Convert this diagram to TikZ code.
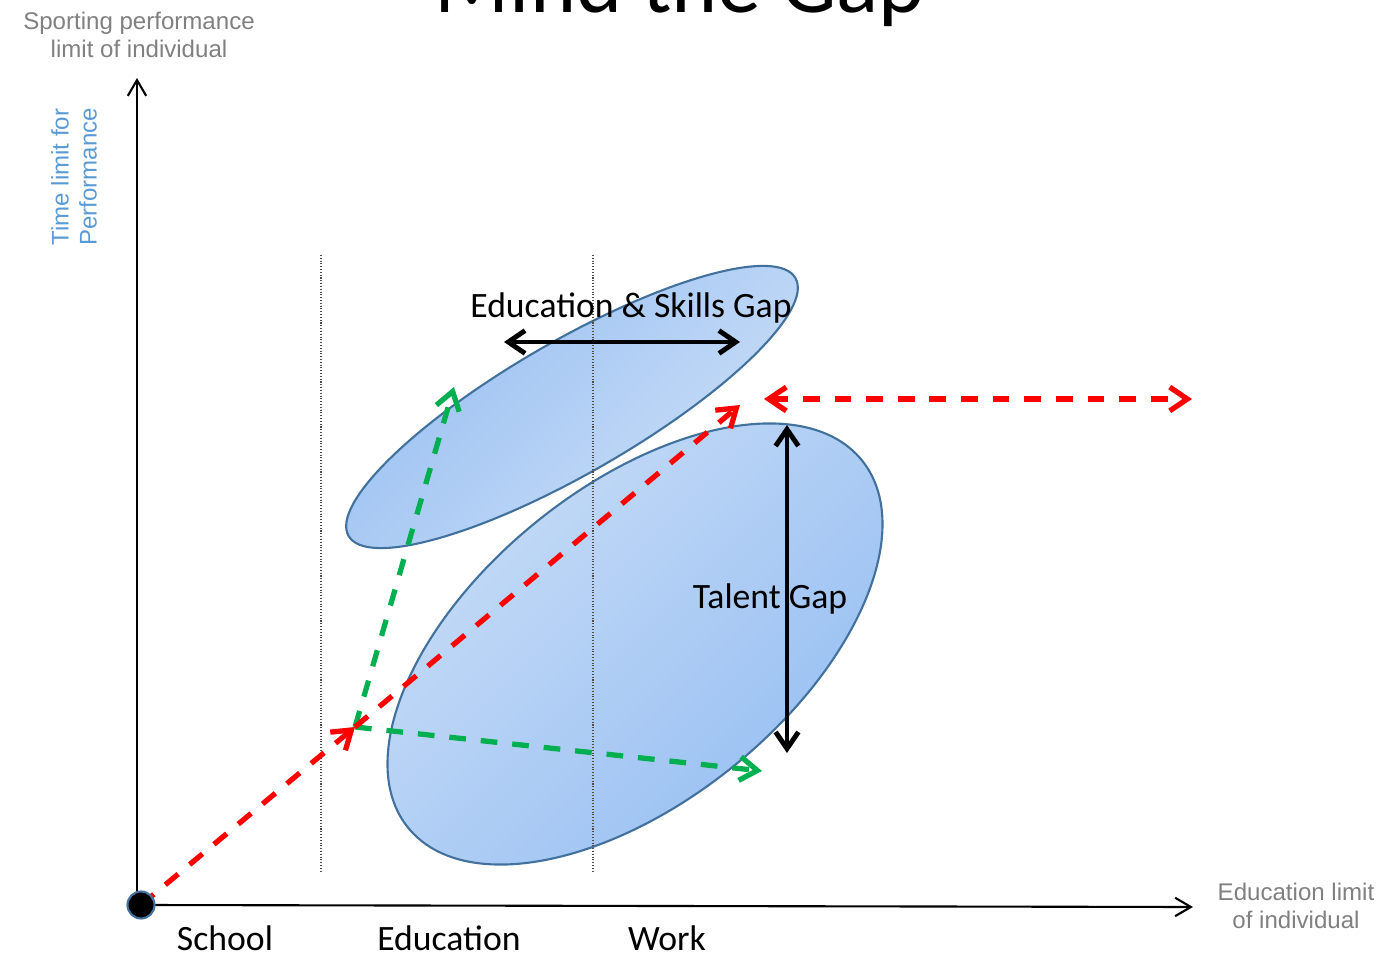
\documentclass[tikz,border=0pt]{standalone}
\usepackage{fontspec}
\setmainfont{Carlito}
\newfontfamily\arialfont{Liberation Sans}
\usetikzlibrary{shapes.geometric,arrows.meta}
\definecolor{ovalline}{RGB}{65,113,156}
\definecolor{ovaldark}{RGB}{150,190,242}
\definecolor{ovallight}{RGB}{202,222,247}
\definecolor{greytext}{RGB}{128,128,128}
\definecolor{bluetext}{RGB}{91,155,213}
\definecolor{gapred}{RGB}{255,0,0}
\definecolor{gapgreen}{RGB}{0,176,80}
\tikzstyle{axis} = [line width=1.2pt,-{Straight Barb[length=9pt,width=10.5pt]}]
\tikzstyle{route} = [line width=3pt,dash pattern=on 9.5pt off 8.5pt,-{Straight Barb[length=10pt,width=13.5pt]}]
\tikzstyle{gaparrow} = [line width=2.8pt,{Straight Barb[length=9.5pt,width=13pt]}-{Straight Barb[length=9.5pt,width=13pt]}]
\tikzstyle{oval} = [ellipse,draw=ovalline,line width=1.2pt,inner sep=0pt]
\tikzstyle{gaptext} = [font=\fontsize{20.3}{24}\selectfont,anchor=base,inner sep=0pt]
\tikzstyle{note} = [font=\arialfont\fontsize{13.7}{16}\selectfont,align=center,text=greytext,inner sep=0pt]
\tikzstyle{divider} = [densely dotted,line width=0.6pt,black!70]

\begin{document}
\begin{tikzpicture}[x=0.02cm,y=-0.02cm]
    \useasboundingbox (0,0) rectangle (1384,966);
    % the two gaps
    \node[oval,minimum width=10.32cm,minimum height=2.64cm,rotate=30,
          top color=ovaldark,bottom color=ovallight,shading angle=45] (skills) at (572,407) {};
    \node[oval,minimum width=11.68cm,minimum height=6.28cm,rotate=39,
          top color=ovallight,bottom color=ovaldark,shading angle=45] (talent) at (635,644) {};
    \draw[divider] (321,255) -- (321,872);
    \draw[divider] (593,255) -- (593,872);
    % axes
    \coordinate (O) at (141,905);
    \coordinate (ytop) at (137,78);
    \coordinate (xend) at (1193,907);
    \draw[axis] (137,905) -- (ytop);
    \draw[axis] (O) -- (xend);
    % routes
    \coordinate (J) at (355,727);
    \coordinate (R) at (740,405);
    \coordinate (G1) at (454,387);
    \coordinate (G2) at (762,771);
    \coordinate (H1) at (764,399);
    \coordinate (H2) at (1192,399);
    \draw[route,gapgreen] (J) -- (G1);
    \draw[route,gapgreen] (J) -- (G2);
    \draw[route,gapred] (O) -- (J);
    \draw[route,gapred] (J) -- (R);
    \draw[route,gapred,{Straight Barb[length=10pt,width=13.5pt]}-{Straight Barb[length=10pt,width=13.5pt]}] (H1) -- (H2);
    \fill[black,draw=ovalline,line width=1.2pt] (O) circle (0.27cm);
    % labels
    \node[gaptext] (skillsgap) at (631,318) {Education \& Skills Gap};
    \node[gaptext] (talentgap) at (770,608) {Talent Gap};
    \coordinate (B1) at (504,342);
    \coordinate (B2) at (740,342);
    \coordinate (V1) at (787,425);
    \coordinate (V2) at (787,753);
    \draw[gaparrow] (B1) -- (B2);
    \draw[gaparrow] (V1) -- (V2);
    \node[gaptext] (school) at (225,950) {School};
    \node[gaptext] (edu) at (449,950) {Education};
    \node[gaptext] (work) at (667,950) {Work};
    \node[note] (sport) at (139,35) {Sporting performance\\limit of individual};
    \node[note] (edulimit) at (1296,906) {Education limit\\of individual};
    \node[note,text=bluetext,rotate=90] (timelimit) at (74,177) {Time limit for\\Performance};
    \node[font=\fontsize{50}{60}\selectfont,anchor=base,inner sep=0pt] (title) at (680,13) {Mind the Gap};
\end{tikzpicture}
\end{document}
